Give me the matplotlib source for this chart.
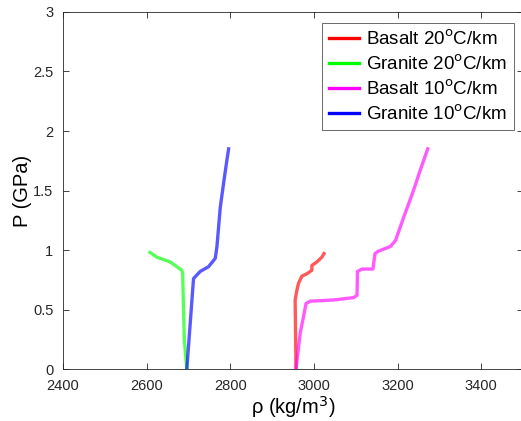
import matplotlib
matplotlib.use('Agg')
import matplotlib.pyplot as plt

plt.rcParams['font.family'] = ['Liberation Sans', 'DejaVu Sans']

# Granite 20 C/km
rho_g20 = [2696, 2690, 2686, 2684, 2672, 2656, 2640, 2624, 2608]
p_g20 = [0.0, 0.24, 0.80, 0.83, 0.86, 0.90, 0.92, 0.94, 0.98]

# Granite 10 C/km
rho_g10 = [2696, 2712, 2728, 2748, 2764, 2768, 2776, 2785, 2792, 2796]
p_g10 = [0.0, 0.76, 0.82, 0.86, 0.93, 1.03, 1.36, 1.59, 1.76, 1.85]

# Basalt 20 C/km
rho_b20 = [2957, 2955, 2959, 2963, 2971, 2983, 2995, 2995, 3007, 3019, 3024]
p_b20 = [0.0, 0.58, 0.66, 0.72, 0.78, 0.80, 0.83, 0.87, 0.90, 0.94, 0.97]

# Basalt 10 C/km
rho_b10 = [2957, 2967, 2975, 2981, 2991, 3047, 3095, 3103, 3104, 3115, 3141,
           3146, 3154, 3183, 3195, 3215, 3238, 3254, 3272]
p_b10 = [0.0, 0.30, 0.44, 0.55, 0.57, 0.58, 0.60, 0.62, 0.82, 0.84, 0.84,
         0.97, 0.99, 1.03, 1.08, 1.28, 1.50, 1.67, 1.85]

fig = plt.figure(figsize=(5.21, 4.21), dpi=100)
ax = fig.add_axes([0.121, 0.1235, 0.883, 0.848])

lw = 2.4
al = 0.65
ax.plot(rho_b20, p_b20, color='#ff0000', lw=lw, alpha=al, label='Basalt 20$^{\\rm o}$C/km')
ax.plot(rho_g20, p_g20, color='#00ff00', lw=lw, alpha=al, label='Granite 20$^{\\rm o}$C/km')
ax.plot(rho_b10, p_b10, color='#ff00ff', lw=lw, alpha=al, label='Basalt 10$^{\\rm o}$C/km')
ax.plot(rho_g10, p_g10, color='#0000ff', lw=lw, alpha=al, label='Granite 10$^{\\rm o}$C/km')

ax.set_xlim(2400, 3500)
ax.set_ylim(0, 3)
ax.set_xticks([2400, 2600, 2800, 3000, 3200, 3400])
ax.set_yticks([0, 0.5, 1, 1.5, 2, 2.5, 3])
ax.set_yticklabels(['0', '0.5', '1', '1.5', '2', '2.5', '3'])
ax.tick_params(direction='in', top=True, right=True, labelsize=10.5,
               colors='#262626', length=4, width=0.6)
ax.tick_params(axis='x', pad=7)
ax.tick_params(axis='y', pad=7)
for s in ax.spines.values():
    s.set_color('#262626')
    s.set_linewidth(0.6)

ax.set_xlabel('ρ (kg/m$^3$)', fontsize=14.5, labelpad=1)
ax.set_ylabel('P (GPa)', fontsize=14.5, labelpad=1)

leg = ax.legend(loc='upper right', fontsize=13.5, fancybox=False,
                handlelength=1.6, handletextpad=0.4, borderaxespad=0.0,
                labelspacing=0.3, borderpad=0.35, bbox_to_anchor=(0.98, 0.97))
leg.get_frame().set_edgecolor('#262626')
leg.get_frame().set_linewidth(0.6)
for h in leg.get_lines():
    h.set_alpha(1)

fig.savefig('out.png', dpi=100)
